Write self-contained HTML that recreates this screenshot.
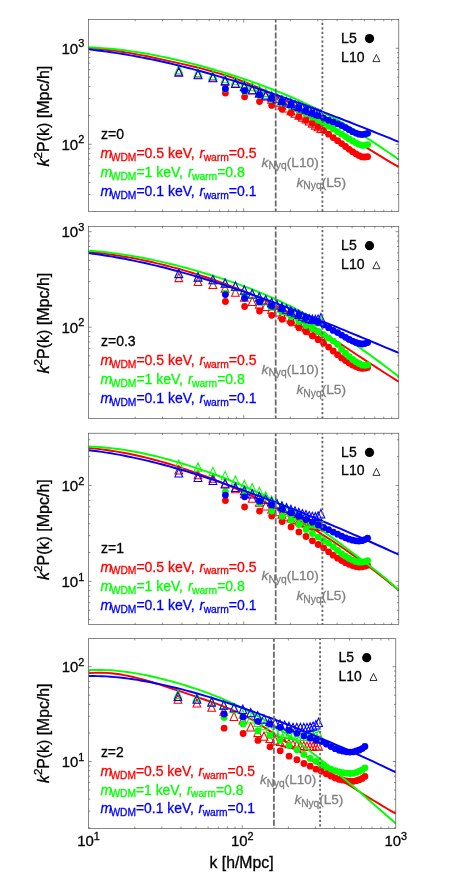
<!DOCTYPE html>
<html><head><meta charset="utf-8"><title>chart</title>
<style>html,body{margin:0;padding:0;background:#fff}svg{display:block;will-change:transform}</style></head>
<body>
<svg width="463" height="874" viewBox="0 0 463 874" font-family="Liberation Sans, sans-serif">
<rect width="463" height="874" fill="#fff"/>
<clipPath id="c0"><rect x="88.5" y="19.4" width="310.3" height="192"/></clipPath>
<g clip-path="url(#c0)">
<polyline points="88.5,48.4 93,48.6 97.5,48.9 102,49.3 106.5,49.8 111,50.3 115.5,50.9 120,51.5 124.5,52.2 129,52.9 133.5,53.7 138,54.6 142.5,55.4 147,56.3 151.5,57.2 156,58.2 160.5,59.1 165,60.1 169.4,61.1 173.9,62.1 178.4,63.1 182.9,64.1 187.4,65.1 191.9,66.2 196.4,67.3 200.9,68.4 205.4,69.6 209.9,70.8 214.4,72.1 218.9,73.4 223.4,74.7 227.9,76.2 232.4,77.7 236.9,79.2 241.4,80.8 245.9,82.5 250.4,84.3 254.9,86.2 259.4,88.1 263.9,90.1 268.4,92.2 272.9,94.3 277.4,96.5 281.9,98.8 286.4,101.1 290.9,103.4 295.4,105.8 299.9,108.3 304.4,110.7 308.9,113.3 313.4,115.8 317.9,118.4 322.3,121 326.8,123.7 331.3,126.4 335.8,129.1 340.3,131.8 344.8,134.5 349.3,137.2 353.8,140 358.3,142.7 362.8,145.5 367.3,148.2 371.8,150.9 376.3,153.7 380.8,156.4 385.3,159.1 389.8,161.8 394.3,164.4 398.8,167.1" fill="none" stroke="#ff0000" stroke-width="1.95"/>
<path d="M174.9,75.3L178.8,66.9L182.7,75.3ZM194.1,77.9L198,69.5L201.9,77.9ZM209,80.9L212.9,72.5L216.8,80.9ZM221.2,84.5L225.1,76.1L229,84.5ZM231.5,87.1L235.4,78.7L239.3,87.1ZM240.4,90.4L244.3,82L248.2,90.4ZM248.3,93.9L252.2,85.5L256.1,93.9ZM255.4,97.2L259.3,88.8L263.2,97.2ZM261.8,100.2L265.7,91.8L269.6,100.2ZM267.7,103.2L271.6,94.8L275.5,103.2ZM273,106.1L276.9,97.7L280.8,106.1ZM278,109.1L281.9,100.7L285.8,109.1ZM282.6,112L286.5,103.6L290.4,112ZM287,114.8L290.9,106.4L294.8,114.8ZM291.1,117.2L295,108.8L298.9,117.2ZM294.9,119.2L298.8,110.8L302.7,119.2ZM298.5,121.1L302.4,112.7L306.3,121.1ZM302,122.9L305.9,114.5L309.8,122.9ZM305.3,125L309.2,116.6L313.1,125ZM308.4,127.1L312.3,118.7L316.2,127.1ZM311.4,129.1L315.3,120.7L319.2,129.1ZM314.2,130.8L318.1,122.4L322,130.8ZM317,132.4L320.9,124L324.8,132.4Z" fill="none" stroke="#ff0000" stroke-width="1.05"/>
<g fill="#ff0000">
<circle cx="225.4" cy="93" r="3.4"/>
<circle cx="244.6" cy="96.8" r="3.4"/>
<circle cx="259.5" cy="101.6" r="3.4"/>
<circle cx="271.7" cy="105.4" r="3.4"/>
<circle cx="282.1" cy="109.3" r="3.4"/>
<circle cx="291" cy="113.1" r="3.4"/>
<circle cx="298.9" cy="116.6" r="3.4"/>
<circle cx="306" cy="120" r="3.4"/>
<circle cx="312.4" cy="123.2" r="3.4"/>
<circle cx="318.2" cy="126.6" r="3.4"/>
<circle cx="323.6" cy="130.5" r="3.4"/>
<circle cx="328.6" cy="134.2" r="3.4"/>
<circle cx="333.2" cy="137.6" r="3.4"/>
<circle cx="337.6" cy="140.7" r="3.4"/>
<circle cx="341.6" cy="143.6" r="3.4"/>
<circle cx="345.5" cy="146.5" r="3.4"/>
<circle cx="349.1" cy="149.3" r="3.4"/>
<circle cx="352.6" cy="151.7" r="3.4"/>
<circle cx="355.9" cy="153.8" r="3.4"/>
<circle cx="359" cy="155.6" r="3.4"/>
<circle cx="362" cy="156.9" r="3.4"/>
<circle cx="364.8" cy="157" r="3.4"/>
<circle cx="367.6" cy="156.7" r="3.4"/>
</g>
<polyline points="88.5,47.3 93,47.5 97.5,47.8 102,48.1 106.5,48.4 111,48.8 115.5,49.3 120,49.8 124.5,50.3 129,50.9 133.5,51.6 138,52.3 142.5,53 147,53.8 151.5,54.6 156,55.5 160.5,56.4 165,57.3 169.4,58.3 173.9,59.3 178.4,60.3 182.9,61.4 187.4,62.5 191.9,63.6 196.4,64.8 200.9,66 205.4,67.2 209.9,68.5 214.4,69.8 218.9,71.1 223.4,72.4 227.9,73.8 232.4,75.2 236.9,76.6 241.4,78.1 245.9,79.6 250.4,81.2 254.9,82.8 259.4,84.4 263.9,86.1 268.4,87.8 272.9,89.5 277.4,91.3 281.9,93.1 286.4,95 290.9,97 295.4,98.9 299.9,101 304.4,103.1 308.9,105.2 313.4,107.4 317.9,109.6 322.3,111.9 326.8,114.3 331.3,116.7 335.8,119.2 340.3,121.7 344.8,124.3 349.3,127 353.8,129.7 358.3,132.5 362.8,135.3 367.3,138.2 371.8,141.1 376.3,144.1 380.8,147.1 385.3,150.2 389.8,153.3 394.3,156.4 398.8,159.5" fill="none" stroke="#00ff00" stroke-width="1.95"/>
<path d="M174.9,73.8L178.8,65.4L182.7,73.8ZM194.1,76.4L198,68L201.9,76.4ZM209,79.4L212.9,71L216.8,79.4ZM221.2,82.8L225.1,74.4L229,82.8ZM231.5,84.8L235.4,76.4L239.3,84.8ZM240.4,87.6L244.3,79.2L248.2,87.6ZM248.3,90.7L252.2,82.3L256.1,90.7ZM255.4,93.7L259.3,85.3L263.2,93.7ZM261.8,96.6L265.7,88.2L269.6,96.6ZM267.7,99.3L271.6,90.9L275.5,99.3ZM273,101.7L276.9,93.3L280.8,101.7ZM278,103.9L281.9,95.5L285.8,103.9ZM282.6,105.8L286.5,97.4L290.4,105.8ZM287,107.6L290.9,99.2L294.8,107.6ZM291.1,109.3L295,100.9L298.9,109.3ZM294.9,110.8L298.8,102.4L302.7,110.8ZM298.5,112.2L302.4,103.8L306.3,112.2ZM302,113.5L305.9,105.1L309.8,113.5ZM305.3,114.7L309.2,106.3L313.1,114.7ZM308.4,115.8L312.3,107.4L316.2,115.8ZM311.4,116.9L315.3,108.5L319.2,116.9ZM314.2,117.8L318.1,109.4L322,117.8ZM317,118.7L320.9,110.3L324.8,118.7Z" fill="none" stroke="#00ff00" stroke-width="1.05"/>
<g fill="#00ff00">
<circle cx="225.4" cy="89" r="3.4"/>
<circle cx="244.6" cy="91.5" r="3.4"/>
<circle cx="259.5" cy="95.4" r="3.4"/>
<circle cx="271.7" cy="99.5" r="3.4"/>
<circle cx="282.1" cy="103" r="3.4"/>
<circle cx="291" cy="106.4" r="3.4"/>
<circle cx="298.9" cy="110.2" r="3.4"/>
<circle cx="306" cy="113.8" r="3.4"/>
<circle cx="312.4" cy="117.2" r="3.4"/>
<circle cx="318.2" cy="120.3" r="3.4"/>
<circle cx="323.6" cy="123.4" r="3.4"/>
<circle cx="328.6" cy="126.3" r="3.4"/>
<circle cx="333.2" cy="129.1" r="3.4"/>
<circle cx="337.6" cy="131.7" r="3.4"/>
<circle cx="341.6" cy="134.2" r="3.4"/>
<circle cx="345.5" cy="136.6" r="3.4"/>
<circle cx="349.1" cy="138.9" r="3.4"/>
<circle cx="352.6" cy="141" r="3.4"/>
<circle cx="355.9" cy="142.8" r="3.4"/>
<circle cx="359" cy="144.4" r="3.4"/>
<circle cx="362" cy="145.3" r="3.4"/>
<circle cx="364.8" cy="145.2" r="3.4"/>
<circle cx="367.6" cy="144.6" r="3.4"/>
</g>
<polyline points="88.5,49.4 93,49.9 97.5,50.5 102,51 106.5,51.6 111,52.3 115.5,52.9 120,53.6 124.5,54.3 129,55.1 133.5,55.9 138,56.7 142.5,57.6 147,58.5 151.5,59.4 156,60.3 160.5,61.3 165,62.3 169.4,63.3 173.9,64.4 178.4,65.5 182.9,66.6 187.4,67.7 191.9,68.9 196.4,70.1 200.9,71.3 205.4,72.5 209.9,73.8 214.4,75.1 218.9,76.4 223.4,77.7 227.9,79.1 232.4,80.4 236.9,81.8 241.4,83.2 245.9,84.7 250.4,86.1 254.9,87.6 259.4,89.1 263.9,90.6 268.4,92.1 272.9,93.7 277.4,95.2 281.9,96.8 286.4,98.4 290.9,100 295.4,101.6 299.9,103.2 304.4,104.9 308.9,106.6 313.4,108.2 317.9,109.9 322.3,111.6 326.8,113.3 331.3,115.1 335.8,116.8 340.3,118.5 344.8,120.3 349.3,122 353.8,123.8 358.3,125.6 362.8,127.4 367.3,129.2 371.8,131 376.3,132.8 380.8,134.6 385.3,136.4 389.8,138.2 394.3,140.1 398.8,141.9" fill="none" stroke="#0000ff" stroke-width="1.95"/>
<path d="M174.9,76.1L178.8,67.7L182.7,76.1ZM194.1,78.7L198,70.3L201.9,78.7ZM209,81.7L212.9,73.3L216.8,81.7ZM221.2,85.1L225.1,76.7L229,85.1ZM231.5,87.4L235.4,79L239.3,87.4ZM240.4,90.6L244.3,82.2L248.2,90.6ZM248.3,93.8L252.2,85.4L256.1,93.8ZM255.4,96.7L259.3,88.3L263.2,96.7ZM261.8,99.1L265.7,90.7L269.6,99.1ZM267.7,101L271.6,92.6L275.5,101ZM273,102.8L276.9,94.4L280.8,102.8ZM278,104.4L281.9,96L285.8,104.4ZM282.6,105.9L286.5,97.5L290.4,105.9ZM287,107.5L290.9,99.1L294.8,107.5ZM291.1,109.1L295,100.7L298.9,109.1ZM294.9,110.6L298.8,102.2L302.7,110.6ZM298.5,112L302.4,103.6L306.3,112ZM302,113.3L305.9,104.9L309.8,113.3ZM305.3,114.5L309.2,106.1L313.1,114.5ZM308.4,115.6L312.3,107.2L316.2,115.6ZM311.4,116.6L315.3,108.2L319.2,116.6ZM314.2,117.6L318.1,109.2L322,117.6ZM317,118.4L320.9,110L324.8,118.4Z" fill="none" stroke="#0000ff" stroke-width="1.05"/>
<g fill="#0000ff">
<circle cx="225.4" cy="88.7" r="3.4"/>
<circle cx="244.6" cy="90.7" r="3.4"/>
<circle cx="259.5" cy="94.7" r="3.4"/>
<circle cx="271.7" cy="98" r="3.4"/>
<circle cx="282.1" cy="101.4" r="3.4"/>
<circle cx="291" cy="104.5" r="3.4"/>
<circle cx="298.9" cy="107.6" r="3.4"/>
<circle cx="306" cy="110.5" r="3.4"/>
<circle cx="312.4" cy="113.1" r="3.4"/>
<circle cx="318.2" cy="115.6" r="3.4"/>
<circle cx="323.6" cy="118.1" r="3.4"/>
<circle cx="328.6" cy="120.2" r="3.4"/>
<circle cx="333.2" cy="122.1" r="3.4"/>
<circle cx="337.6" cy="123.8" r="3.4"/>
<circle cx="341.6" cy="125.6" r="3.4"/>
<circle cx="345.5" cy="127.6" r="3.4"/>
<circle cx="349.1" cy="129.7" r="3.4"/>
<circle cx="352.6" cy="131.7" r="3.4"/>
<circle cx="355.9" cy="133.1" r="3.4"/>
<circle cx="359" cy="134.2" r="3.4"/>
<circle cx="362" cy="134.6" r="3.4"/>
<circle cx="364.8" cy="134.2" r="3.4"/>
<circle cx="367.6" cy="133.3" r="3.4"/>
</g>
<line x1="275.7" x2="275.7" y1="19.4" y2="211.4" stroke="#6a6a6a" stroke-width="1.8" stroke-dasharray="6 2" stroke-dashoffset="3"/>
<line x1="322.4" x2="322.4" y1="19.4" y2="211.4" stroke="#6a6a6a" stroke-width="1.9" stroke-dasharray="2.2 2.24" stroke-dashoffset="1"/>
</g>
<rect x="88.5" y="19.4" width="310.3" height="192" fill="none" stroke="#383838" stroke-width="0.6"/>
<path d="M88.5,48.3h3.2M398.8,48.3h-3.2M88.5,144.3h3.2M398.8,144.3h-3.2M88.5,115.4h1.8M398.8,115.4h-1.8M88.5,98.5h1.8M398.8,98.5h-1.8M88.5,86.5h1.8M398.8,86.5h-1.8M88.5,77.2h1.8M398.8,77.2h-1.8M88.5,69.6h1.8M398.8,69.6h-1.8M88.5,63.2h1.8M398.8,63.2h-1.8M88.5,57.6h1.8M398.8,57.6h-1.8M88.5,52.7h1.8M398.8,52.7h-1.8M88.5,194.5h1.8M398.8,194.5h-1.8M88.5,182.5h1.8M398.8,182.5h-1.8M88.5,173.2h1.8M398.8,173.2h-1.8M88.5,165.6h1.8M398.8,165.6h-1.8M88.5,159.2h1.8M398.8,159.2h-1.8M88.5,153.6h1.8M398.8,153.6h-1.8M88.5,148.7h1.8M398.8,148.7h-1.8M135.2,19.4v1.8M135.2,211.4v-1.8M162.5,19.4v1.8M162.5,211.4v-1.8M181.9,19.4v1.8M181.9,211.4v-1.8M196.9,19.4v1.8M196.9,211.4v-1.8M209.2,19.4v1.8M209.2,211.4v-1.8M219.6,19.4v1.8M219.6,211.4v-1.8M228.6,19.4v1.8M228.6,211.4v-1.8M236.6,19.4v1.8M236.6,211.4v-1.8M243.7,19.4v3.2M243.7,211.4v-3.2M290.4,19.4v1.8M290.4,211.4v-1.8M317.7,19.4v1.8M317.7,211.4v-1.8M337.1,19.4v1.8M337.1,211.4v-1.8M352.1,19.4v1.8M352.1,211.4v-1.8M364.4,19.4v1.8M364.4,211.4v-1.8M374.8,19.4v1.8M374.8,211.4v-1.8M383.8,19.4v1.8M383.8,211.4v-1.8M391.7,19.4v1.8M391.7,211.4v-1.8" stroke="#4a4a4a" stroke-width="0.6" fill="none"/>
<text x="84.3" y="54" font-size="15.1" text-anchor="end" stroke="#000" stroke-width="0.3">10<tspan dy="-6.6" font-size="10.9">3</tspan></text>
<text x="84.3" y="150" font-size="15.1" text-anchor="end" stroke="#000" stroke-width="0.3">10<tspan dy="-6.6" font-size="10.9">2</tspan></text>
<text transform="translate(49,166.4) rotate(-90)" font-size="16" stroke="#000" stroke-width="0.3"><tspan font-style="italic">k</tspan><tspan dy="-7.2" font-size="11.6">2</tspan><tspan dy="7.2">P(k) [Mpc/h]</tspan></text>
<text x="341.1" y="42.7" font-size="14" stroke="#000" stroke-width="0.3">L5</text>
<circle cx="369.5" cy="38.6" r="4.6" fill="#000"/>
<text x="341.1" y="61.6" font-size="14" stroke="#000" stroke-width="0.3">L10</text>
<path d="M372.9,61.6L376.4,54.5L379.9,61.6Z" fill="none" stroke="#000" stroke-width="0.8"/>
<text x="101" y="139.3" font-size="14" stroke="#000" stroke-width="0.3">z=0</text>
<text x="100.5" y="157.8" font-size="14" fill="#ff0000" stroke="#ff0000" stroke-width="0.3"><tspan font-style="italic">m</tspan><tspan dx="-1.5" dy="2.8" font-size="10.3">WDM</tspan><tspan dy="-2.8">=0.5 keV, </tspan><tspan dx="1" font-style="italic">r</tspan><tspan dx="-0.6" dy="2.8" font-size="10.3">warm</tspan><tspan dy="-2.8">=0.5</tspan></text>
<text x="100.5" y="176.9" font-size="14" fill="#00ff00" stroke="#00ff00" stroke-width="0.3"><tspan font-style="italic">m</tspan><tspan dx="-1.5" dy="2.8" font-size="10.3">WDM</tspan><tspan dy="-2.8">=1 keV, </tspan><tspan dx="1" font-style="italic">r</tspan><tspan dx="-0.6" dy="2.8" font-size="10.3">warm</tspan><tspan dy="-2.8">=0.8</tspan></text>
<text x="100.5" y="195.9" font-size="14" fill="#0000ff" stroke="#0000ff" stroke-width="0.3"><tspan font-style="italic">m</tspan><tspan dx="-1.5" dy="2.8" font-size="10.3">WDM</tspan><tspan dy="-2.8">=0.1 keV, </tspan><tspan dx="1" font-style="italic">r</tspan><tspan dx="-0.6" dy="2.8" font-size="10.3">warm</tspan><tspan dy="-2.8">=0.1</tspan></text>
<text x="261.6" y="166.5" font-size="13.7" fill="#808080" stroke="#808080" stroke-width="0.3"><tspan font-style="italic">k</tspan><tspan dy="2.8" font-size="10.3">Nyq</tspan><tspan dy="-2.8">(L10)</tspan></text>
<text x="296.5" y="186.6" font-size="13.7" fill="#808080" stroke="#808080" stroke-width="0.3"><tspan font-style="italic">k</tspan><tspan dy="2.8" font-size="10.3">Nyq</tspan><tspan dy="-2.8">(L5)</tspan></text>
<clipPath id="c1"><rect x="88.5" y="226.5" width="310.3" height="191.9"/></clipPath>
<g clip-path="url(#c1)">
<polyline points="88.5,251.9 93,252.3 97.5,252.8 102,253.3 106.5,253.9 111,254.5 115.5,255.2 120,255.9 124.5,256.7 129,257.4 133.5,258.3 138,259.1 142.5,260.1 147,261 151.5,262 156,263.1 160.5,264.1 165,265.2 169.4,266.4 173.9,267.6 178.4,268.8 182.9,270.1 187.4,271.4 191.9,272.8 196.4,274.1 200.9,275.6 205.4,277 209.9,278.5 214.4,280 218.9,281.6 223.4,283.2 227.9,284.9 232.4,286.6 236.9,288.3 241.4,290.1 245.9,292 250.4,293.9 254.9,295.8 259.4,297.9 263.9,299.9 268.4,302.1 272.9,304.3 277.4,306.5 281.9,308.8 286.4,311.2 290.9,313.7 295.4,316.2 299.9,318.8 304.4,321.4 308.9,324.1 313.4,326.8 317.9,329.6 322.3,332.4 326.8,335.2 331.3,338.1 335.8,341 340.3,343.9 344.8,346.8 349.3,349.8 353.8,352.7 358.3,355.7 362.8,358.6 367.3,361.6 371.8,364.5 376.3,367.4 380.8,370.3 385.3,373.2 389.8,376 394.3,378.9 398.8,381.7" fill="none" stroke="#ff0000" stroke-width="1.95"/>
<path d="M174.9,281.6L178.8,273.2L182.7,281.6ZM194.1,285.5L198,277.1L201.9,285.5ZM209,288.5L212.9,280.1L216.8,288.5ZM221.2,292.3L225.1,283.9L229,292.3ZM231.5,296.3L235.4,287.9L239.3,296.3ZM240.4,301.2L244.3,292.8L248.2,301.2ZM248.3,305.5L252.2,297.1L256.1,305.5ZM255.4,308.1L259.3,299.7L263.2,308.1ZM261.8,310.4L265.7,302L269.6,310.4ZM267.7,313.2L271.6,304.8L275.5,313.2ZM273,316L276.9,307.6L280.8,316ZM278,318.7L281.9,310.3L285.8,318.7ZM282.6,320.9L286.5,312.5L290.4,320.9ZM287,323.1L290.9,314.7L294.8,323.1ZM291.1,325.1L295,316.7L298.9,325.1ZM294.9,327.1L298.8,318.7L302.7,327.1ZM298.5,329.2L302.4,320.8L306.3,329.2ZM302,331.2L305.9,322.8L309.8,331.2ZM305.3,333.2L309.2,324.8L313.1,333.2ZM308.4,334.9L312.3,326.5L316.2,334.9ZM311.4,336.6L315.3,328.2L319.2,336.6ZM314.2,338L318.1,329.6L322,338ZM317,339.4L320.9,331L324.8,339.4Z" fill="none" stroke="#ff0000" stroke-width="1.05"/>
<g fill="#ff0000">
<circle cx="225.4" cy="301.5" r="3.4"/>
<circle cx="244.6" cy="306.5" r="3.4"/>
<circle cx="259.5" cy="311" r="3.4"/>
<circle cx="271.7" cy="315.3" r="3.4"/>
<circle cx="282.1" cy="319.3" r="3.4"/>
<circle cx="291" cy="323.1" r="3.4"/>
<circle cx="298.9" cy="327.8" r="3.4"/>
<circle cx="306" cy="331.7" r="3.4"/>
<circle cx="312.4" cy="335.9" r="3.4"/>
<circle cx="318.2" cy="339.7" r="3.4"/>
<circle cx="323.6" cy="343.2" r="3.4"/>
<circle cx="328.6" cy="347.1" r="3.4"/>
<circle cx="333.2" cy="351" r="3.4"/>
<circle cx="337.6" cy="354.7" r="3.4"/>
<circle cx="341.6" cy="357.9" r="3.4"/>
<circle cx="345.5" cy="360.6" r="3.4"/>
<circle cx="349.1" cy="363.1" r="3.4"/>
<circle cx="352.6" cy="365.1" r="3.4"/>
<circle cx="355.9" cy="366.6" r="3.4"/>
<circle cx="359" cy="367.8" r="3.4"/>
<circle cx="362" cy="368.4" r="3.4"/>
<circle cx="364.8" cy="368.2" r="3.4"/>
<circle cx="367.6" cy="367.5" r="3.4"/>
</g>
<polyline points="88.5,250.7 93,251 97.5,251.4 102,251.8 106.5,252.3 111,252.9 115.5,253.4 120,254.1 124.5,254.7 129,255.4 133.5,256.2 138,257 142.5,257.8 147,258.7 151.5,259.6 156,260.6 160.5,261.6 165,262.6 169.4,263.7 173.9,264.8 178.4,265.9 182.9,267.1 187.4,268.3 191.9,269.6 196.4,270.8 200.9,272.1 205.4,273.5 209.9,274.8 214.4,276.2 218.9,277.6 223.4,279.1 227.9,280.6 232.4,282.1 236.9,283.7 241.4,285.3 245.9,287 250.4,288.7 254.9,290.5 259.4,292.3 263.9,294.1 268.4,296.1 272.9,298 277.4,300 281.9,302.1 286.4,304.3 290.9,306.5 295.4,308.8 299.9,311.1 304.4,313.5 308.9,315.9 313.4,318.4 317.9,321 322.3,323.6 326.8,326.3 331.3,329.1 335.8,331.9 340.3,334.7 344.8,337.7 349.3,340.6 353.8,343.7 358.3,346.7 362.8,349.9 367.3,353.1 371.8,356.3 376.3,359.6 380.8,362.9 385.3,366.3 389.8,369.7 394.3,373.2 398.8,376.6" fill="none" stroke="#00ff00" stroke-width="1.95"/>
<path d="M174.9,277.3L178.8,268.9L182.7,277.3ZM194.1,281L198,272.6L201.9,281ZM209,283.8L212.9,275.4L216.8,283.8ZM221.2,287.3L225.1,278.9L229,287.3ZM231.5,290.6L235.4,282.2L239.3,290.6ZM240.4,294.6L244.3,286.2L248.2,294.6ZM248.3,298.5L252.2,290.1L256.1,298.5ZM255.4,301.7L259.3,293.3L263.2,301.7ZM261.8,304.6L265.7,296.2L269.6,304.6ZM267.7,307.3L271.6,298.9L275.5,307.3ZM273,309.8L276.9,301.4L280.8,309.8ZM278,312.1L281.9,303.7L285.8,312.1ZM282.6,314.3L286.5,305.9L290.4,314.3ZM287,316.3L290.9,307.9L294.8,316.3ZM291.1,318.2L295,309.8L298.9,318.2ZM294.9,320L298.8,311.6L302.7,320ZM298.5,321.9L302.4,313.5L306.3,321.9ZM302,323.6L305.9,315.2L309.8,323.6ZM305.3,324.8L309.2,316.4L313.1,324.8ZM308.4,325.5L312.3,317.1L316.2,325.5ZM311.4,325.9L315.3,317.5L319.2,325.9ZM314.2,325.6L318.1,317.2L322,325.6ZM317,324.6L320.9,316.2L324.8,324.6Z" fill="none" stroke="#00ff00" stroke-width="1.05"/>
<g fill="#00ff00">
<circle cx="225.4" cy="293.2" r="3.4"/>
<circle cx="244.6" cy="297" r="3.4"/>
<circle cx="259.5" cy="302.2" r="3.4"/>
<circle cx="271.7" cy="307.4" r="3.4"/>
<circle cx="282.1" cy="312" r="3.4"/>
<circle cx="291" cy="316.6" r="3.4"/>
<circle cx="298.9" cy="321.6" r="3.4"/>
<circle cx="306" cy="325.6" r="3.4"/>
<circle cx="312.4" cy="328.7" r="3.4"/>
<circle cx="318.2" cy="331.5" r="3.4"/>
<circle cx="323.6" cy="334.7" r="3.4"/>
<circle cx="328.6" cy="338.1" r="3.4"/>
<circle cx="333.2" cy="341.1" r="3.4"/>
<circle cx="337.6" cy="344.4" r="3.4"/>
<circle cx="341.6" cy="349.3" r="3.4"/>
<circle cx="345.5" cy="353.2" r="3.4"/>
<circle cx="349.1" cy="356.6" r="3.4"/>
<circle cx="352.6" cy="359.5" r="3.4"/>
<circle cx="355.9" cy="361.7" r="3.4"/>
<circle cx="359" cy="363.5" r="3.4"/>
<circle cx="362" cy="365" r="3.4"/>
<circle cx="364.8" cy="365.3" r="3.4"/>
<circle cx="367.6" cy="364.9" r="3.4"/>
</g>
<polyline points="88.5,253.1 93,253.7 97.5,254.3 102,255 106.5,255.7 111,256.4 115.5,257.2 120,258 124.5,258.8 129,259.7 133.5,260.6 138,261.6 142.5,262.5 147,263.5 151.5,264.6 156,265.6 160.5,266.7 165,267.8 169.4,269 173.9,270.2 178.4,271.4 182.9,272.6 187.4,273.9 191.9,275.1 196.4,276.5 200.9,277.8 205.4,279.2 209.9,280.5 214.4,281.9 218.9,283.4 223.4,284.8 227.9,286.3 232.4,287.8 236.9,289.3 241.4,290.8 245.9,292.4 250.4,294 254.9,295.6 259.4,297.2 263.9,298.8 268.4,300.4 272.9,302.1 277.4,303.8 281.9,305.5 286.4,307.2 290.9,308.9 295.4,310.6 299.9,312.4 304.4,314.1 308.9,315.9 313.4,317.7 317.9,319.5 322.3,321.3 326.8,323.1 331.3,324.9 335.8,326.7 340.3,328.6 344.8,330.4 349.3,332.3 353.8,334.1 358.3,336 362.8,337.9 367.3,339.7 371.8,341.6 376.3,343.5 380.8,345.4 385.3,347.3 389.8,349.2 394.3,351 398.8,352.9" fill="none" stroke="#0000ff" stroke-width="1.95"/>
<path d="M174.9,277.6L178.8,269.2L182.7,277.6ZM194.1,281.1L198,272.7L201.9,281.1ZM209,283.8L212.9,275.4L216.8,283.8ZM221.2,287.1L225.1,278.7L229,287.1ZM231.5,290.2L235.4,281.8L239.3,290.2ZM240.4,294.1L244.3,285.7L248.2,294.1ZM248.3,297.9L252.2,289.5L256.1,297.9ZM255.4,301.1L259.3,292.7L263.2,301.1ZM261.8,304L265.7,295.6L269.6,304ZM267.7,306.6L271.6,298.2L275.5,306.6ZM273,309L276.9,300.6L280.8,309ZM278,311.2L281.9,302.8L285.8,311.2ZM282.6,313.2L286.5,304.8L290.4,313.2ZM287,315.1L290.9,306.7L294.8,315.1ZM291.1,316.8L295,308.4L298.9,316.8ZM294.9,318.5L298.8,310.1L302.7,318.5ZM298.5,320.3L302.4,311.9L306.3,320.3ZM302,321.8L305.9,313.4L309.8,321.8ZM305.3,322.8L309.2,314.4L313.1,322.8ZM308.4,323.4L312.3,315L316.2,323.4ZM311.4,323.7L315.3,315.3L319.2,323.7ZM314.2,323.3L318.1,314.9L322,323.3ZM317,322L320.9,313.6L324.8,322Z" fill="none" stroke="#0000ff" stroke-width="1.05"/>
<g fill="#0000ff">
<circle cx="225.4" cy="294.6" r="3.4"/>
<circle cx="244.6" cy="298.2" r="3.4"/>
<circle cx="259.5" cy="301.9" r="3.4"/>
<circle cx="271.7" cy="306" r="3.4"/>
<circle cx="282.1" cy="308.9" r="3.4"/>
<circle cx="291" cy="311.8" r="3.4"/>
<circle cx="298.9" cy="315" r="3.4"/>
<circle cx="306" cy="317.6" r="3.4"/>
<circle cx="312.4" cy="320.1" r="3.4"/>
<circle cx="318.2" cy="322.4" r="3.4"/>
<circle cx="323.6" cy="324.9" r="3.4"/>
<circle cx="328.6" cy="327.7" r="3.4"/>
<circle cx="333.2" cy="330.4" r="3.4"/>
<circle cx="337.6" cy="332.6" r="3.4"/>
<circle cx="341.6" cy="335.1" r="3.4"/>
<circle cx="345.5" cy="337.3" r="3.4"/>
<circle cx="349.1" cy="339.4" r="3.4"/>
<circle cx="352.6" cy="341.1" r="3.4"/>
<circle cx="355.9" cy="342.4" r="3.4"/>
<circle cx="359" cy="343.5" r="3.4"/>
<circle cx="362" cy="344" r="3.4"/>
<circle cx="364.8" cy="343.6" r="3.4"/>
<circle cx="367.6" cy="342.5" r="3.4"/>
</g>
<line x1="275.7" x2="275.7" y1="226.5" y2="418.4" stroke="#6a6a6a" stroke-width="1.8" stroke-dasharray="6 2" stroke-dashoffset="3"/>
<line x1="322.4" x2="322.4" y1="226.5" y2="418.4" stroke="#6a6a6a" stroke-width="1.9" stroke-dasharray="2.2 2.24" stroke-dashoffset="1"/>
</g>
<rect x="88.5" y="226.5" width="310.3" height="191.9" fill="none" stroke="#383838" stroke-width="0.6"/>
<path d="M88.5,231.7h3.2M398.8,231.7h-3.2M88.5,327.2h3.2M398.8,327.2h-3.2M88.5,298.5h1.8M398.8,298.5h-1.8M88.5,281.6h1.8M398.8,281.6h-1.8M88.5,269.7h1.8M398.8,269.7h-1.8M88.5,260.4h1.8M398.8,260.4h-1.8M88.5,252.9h1.8M398.8,252.9h-1.8M88.5,246.5h1.8M398.8,246.5h-1.8M88.5,241h1.8M398.8,241h-1.8M88.5,236.1h1.8M398.8,236.1h-1.8M88.5,394h1.8M398.8,394h-1.8M88.5,377.1h1.8M398.8,377.1h-1.8M88.5,365.2h1.8M398.8,365.2h-1.8M88.5,355.9h1.8M398.8,355.9h-1.8M88.5,348.4h1.8M398.8,348.4h-1.8M88.5,342h1.8M398.8,342h-1.8M88.5,336.5h1.8M398.8,336.5h-1.8M88.5,331.6h1.8M398.8,331.6h-1.8M135.2,226.5v1.8M135.2,418.4v-1.8M162.5,226.5v1.8M162.5,418.4v-1.8M181.9,226.5v1.8M181.9,418.4v-1.8M196.9,226.5v1.8M196.9,418.4v-1.8M209.2,226.5v1.8M209.2,418.4v-1.8M219.6,226.5v1.8M219.6,418.4v-1.8M228.6,226.5v1.8M228.6,418.4v-1.8M236.6,226.5v1.8M236.6,418.4v-1.8M243.7,226.5v3.2M243.7,418.4v-3.2M290.4,226.5v1.8M290.4,418.4v-1.8M317.7,226.5v1.8M317.7,418.4v-1.8M337.1,226.5v1.8M337.1,418.4v-1.8M352.1,226.5v1.8M352.1,418.4v-1.8M364.4,226.5v1.8M364.4,418.4v-1.8M374.8,226.5v1.8M374.8,418.4v-1.8M383.8,226.5v1.8M383.8,418.4v-1.8M391.7,226.5v1.8M391.7,418.4v-1.8" stroke="#4a4a4a" stroke-width="0.6" fill="none"/>
<text x="84.3" y="237.4" font-size="15.1" text-anchor="end" stroke="#000" stroke-width="0.3">10<tspan dy="-6.6" font-size="10.9">3</tspan></text>
<text x="84.3" y="332.9" font-size="15.1" text-anchor="end" stroke="#000" stroke-width="0.3">10<tspan dy="-6.6" font-size="10.9">2</tspan></text>
<text transform="translate(49,373.4) rotate(-90)" font-size="16" stroke="#000" stroke-width="0.3"><tspan font-style="italic">k</tspan><tspan dy="-7.2" font-size="11.6">2</tspan><tspan dy="7.2">P(k) [Mpc/h]</tspan></text>
<text x="341.1" y="249.8" font-size="14" stroke="#000" stroke-width="0.3">L5</text>
<circle cx="369.5" cy="245.7" r="4.6" fill="#000"/>
<text x="341.1" y="268.7" font-size="14" stroke="#000" stroke-width="0.3">L10</text>
<path d="M372.9,268.7L376.4,261.6L379.9,268.7Z" fill="none" stroke="#000" stroke-width="0.8"/>
<text x="101" y="346.4" font-size="14" stroke="#000" stroke-width="0.3">z=0.3</text>
<text x="100.5" y="364.9" font-size="14" fill="#ff0000" stroke="#ff0000" stroke-width="0.3"><tspan font-style="italic">m</tspan><tspan dx="-1.5" dy="2.8" font-size="10.3">WDM</tspan><tspan dy="-2.8">=0.5 keV, </tspan><tspan dx="1" font-style="italic">r</tspan><tspan dx="-0.6" dy="2.8" font-size="10.3">warm</tspan><tspan dy="-2.8">=0.5</tspan></text>
<text x="100.5" y="384" font-size="14" fill="#00ff00" stroke="#00ff00" stroke-width="0.3"><tspan font-style="italic">m</tspan><tspan dx="-1.5" dy="2.8" font-size="10.3">WDM</tspan><tspan dy="-2.8">=1 keV, </tspan><tspan dx="1" font-style="italic">r</tspan><tspan dx="-0.6" dy="2.8" font-size="10.3">warm</tspan><tspan dy="-2.8">=0.8</tspan></text>
<text x="100.5" y="403" font-size="14" fill="#0000ff" stroke="#0000ff" stroke-width="0.3"><tspan font-style="italic">m</tspan><tspan dx="-1.5" dy="2.8" font-size="10.3">WDM</tspan><tspan dy="-2.8">=0.1 keV, </tspan><tspan dx="1" font-style="italic">r</tspan><tspan dx="-0.6" dy="2.8" font-size="10.3">warm</tspan><tspan dy="-2.8">=0.1</tspan></text>
<text x="261.6" y="373.6" font-size="13.7" fill="#808080" stroke="#808080" stroke-width="0.3"><tspan font-style="italic">k</tspan><tspan dy="2.8" font-size="10.3">Nyq</tspan><tspan dy="-2.8">(L10)</tspan></text>
<text x="296.5" y="393.7" font-size="13.7" fill="#808080" stroke="#808080" stroke-width="0.3"><tspan font-style="italic">k</tspan><tspan dy="2.8" font-size="10.3">Nyq</tspan><tspan dy="-2.8">(L5)</tspan></text>
<clipPath id="c2"><rect x="88.5" y="433.2" width="310.3" height="191.3"/></clipPath>
<g clip-path="url(#c2)">
<polyline points="88.5,448 93,448.4 97.5,448.9 102,449.4 106.5,450 111,450.7 115.5,451.4 120,452.1 124.5,453 129,453.8 133.5,454.8 138,455.8 142.5,456.8 147,457.9 151.5,459 156,460.2 160.5,461.4 165,462.7 169.4,464 173.9,465.4 178.4,466.8 182.9,468.3 187.4,469.8 191.9,471.3 196.4,472.9 200.9,474.6 205.4,476.2 209.9,477.9 214.4,479.7 218.9,481.5 223.4,483.3 227.9,485.2 232.4,487.1 236.9,489.1 241.4,491.1 245.9,493.1 250.4,495.2 254.9,497.3 259.4,499.5 263.9,501.7 268.4,504 272.9,506.3 277.4,508.6 281.9,511 286.4,513.4 290.9,515.9 295.4,518.4 299.9,521 304.4,523.6 308.9,526.3 313.4,529 317.9,531.7 322.3,534.6 326.8,537.4 331.3,540.3 335.8,543.3 340.3,546.3 344.8,549.3 349.3,552.4 353.8,555.6 358.3,558.8 362.8,562.1 367.3,565.4 371.8,568.8 376.3,572.2 380.8,575.7 385.3,579.3 389.8,582.9 394.3,586.6 398.8,590.3" fill="none" stroke="#ff0000" stroke-width="1.95"/>
<path d="M174.9,474L178.8,465.6L182.7,474ZM194.1,478.8L198,470.4L201.9,478.8ZM209,482.2L212.9,473.8L216.8,482.2ZM221.2,487.3L225.1,478.9L229,487.3ZM231.5,492.7L235.4,484.3L239.3,492.7ZM240.4,497.8L244.3,489.4L248.2,497.8ZM248.3,502.3L252.2,493.9L256.1,502.3ZM255.4,506.3L259.3,497.9L263.2,506.3ZM261.8,509.9L265.7,501.5L269.6,509.9ZM267.7,513L271.6,504.6L275.5,513ZM273,515.7L276.9,507.3L280.8,515.7ZM278,518.1L281.9,509.7L285.8,518.1ZM282.6,520.2L286.5,511.8L290.4,520.2ZM287,521.9L290.9,513.5L294.8,521.9ZM291.1,523.5L295,515.1L298.9,523.5ZM294.9,524.9L298.8,516.5L302.7,524.9ZM298.5,526.1L302.4,517.7L306.3,526.1ZM302,527.3L305.9,518.9L309.8,527.3ZM305.3,528.5L309.2,520.1L313.1,528.5ZM308.4,529.5L312.3,521.1L316.2,529.5ZM311.4,530L315.3,521.6L319.2,530ZM314.2,530.4L318.1,522L322,530.4ZM317,530.5L320.9,522.1L324.8,530.5Z" fill="none" stroke="#ff0000" stroke-width="1.05"/>
<g fill="#ff0000">
<circle cx="225.4" cy="500.6" r="3.4"/>
<circle cx="244.6" cy="507" r="3.4"/>
<circle cx="259.5" cy="511.1" r="3.4"/>
<circle cx="271.7" cy="516" r="3.4"/>
<circle cx="282.1" cy="521.6" r="3.4"/>
<circle cx="291" cy="526.9" r="3.4"/>
<circle cx="298.9" cy="531.9" r="3.4"/>
<circle cx="306" cy="536.5" r="3.4"/>
<circle cx="312.4" cy="540.8" r="3.4"/>
<circle cx="318.2" cy="544.5" r="3.4"/>
<circle cx="323.6" cy="547.8" r="3.4"/>
<circle cx="328.6" cy="551.8" r="3.4"/>
<circle cx="333.2" cy="555.2" r="3.4"/>
<circle cx="337.6" cy="558.2" r="3.4"/>
<circle cx="341.6" cy="560.6" r="3.4"/>
<circle cx="345.5" cy="562.7" r="3.4"/>
<circle cx="349.1" cy="564.3" r="3.4"/>
<circle cx="352.6" cy="565.6" r="3.4"/>
<circle cx="355.9" cy="566.6" r="3.4"/>
<circle cx="359" cy="567" r="3.4"/>
<circle cx="362" cy="566.8" r="3.4"/>
<circle cx="364.8" cy="566.2" r="3.4"/>
<circle cx="367.6" cy="565.3" r="3.4"/>
</g>
<polyline points="88.5,446.5 93,446.7 97.5,446.9 102,447.3 106.5,447.7 111,448.1 115.5,448.7 120,449.3 124.5,449.9 129,450.7 133.5,451.5 138,452.3 142.5,453.2 147,454.2 151.5,455.2 156,456.3 160.5,457.4 165,458.6 169.4,459.8 173.9,461.1 178.4,462.4 182.9,463.7 187.4,465.1 191.9,466.6 196.4,468.1 200.9,469.6 205.4,471.1 209.9,472.7 214.4,474.4 218.9,476 223.4,477.7 227.9,479.5 232.4,481.3 236.9,483.2 241.4,485.1 245.9,487 250.4,489.1 254.9,491.1 259.4,493.3 263.9,495.5 268.4,497.8 272.9,500.1 277.4,502.6 281.9,505 286.4,507.6 290.9,510.3 295.4,513 299.9,515.8 304.4,518.7 308.9,521.6 313.4,524.6 317.9,527.6 322.3,530.7 326.8,533.9 331.3,537.1 335.8,540.4 340.3,543.6 344.8,547 349.3,550.3 353.8,553.7 358.3,557.1 362.8,560.6 367.3,564 371.8,567.5 376.3,571 380.8,574.6 385.3,578.2 389.8,582 394.3,585.9 398.8,590" fill="none" stroke="#00ff00" stroke-width="1.95"/>
<path d="M174.9,468.5L178.8,460.1L182.7,468.5ZM194.1,471.2L198,462.8L201.9,471.2ZM209,475.6L212.9,467.2L216.8,475.6ZM221.2,479.8L225.1,471.4L229,479.8ZM231.5,484.3L235.4,475.9L239.3,484.3ZM240.4,488.6L244.3,480.2L248.2,488.6ZM248.3,492L252.2,483.6L256.1,492ZM255.4,495.6L259.3,487.2L263.2,495.6ZM261.8,500.2L265.7,491.8L269.6,500.2ZM267.7,504.3L271.6,495.9L275.5,504.3ZM273,507.7L276.9,499.3L280.8,507.7ZM278,510.7L281.9,502.3L285.8,510.7ZM282.6,513.4L286.5,505L290.4,513.4ZM287,516.1L290.9,507.7L294.8,516.1ZM291.1,518.6L295,510.2L298.9,518.6ZM294.9,520.8L298.8,512.4L302.7,520.8ZM298.5,522.9L302.4,514.5L306.3,522.9ZM302,525L305.9,516.6L309.8,525ZM305.3,526.6L309.2,518.2L313.1,526.6ZM308.4,527.6L312.3,519.2L316.2,527.6ZM311.4,528L315.3,519.6L319.2,528ZM314.2,528.4L318.1,520L322,528.4ZM317,528.5L320.9,520.1L324.8,528.5Z" fill="none" stroke="#00ff00" stroke-width="1.05"/>
<g fill="#00ff00">
<circle cx="225.4" cy="491.7" r="3.4"/>
<circle cx="244.6" cy="494.5" r="3.4"/>
<circle cx="259.5" cy="503.2" r="3.4"/>
<circle cx="271.7" cy="511.1" r="3.4"/>
<circle cx="282.1" cy="516.3" r="3.4"/>
<circle cx="291" cy="520.3" r="3.4"/>
<circle cx="298.9" cy="524.6" r="3.4"/>
<circle cx="306" cy="529.4" r="3.4"/>
<circle cx="312.4" cy="533.5" r="3.4"/>
<circle cx="318.2" cy="537.1" r="3.4"/>
<circle cx="323.6" cy="540.5" r="3.4"/>
<circle cx="328.6" cy="543.1" r="3.4"/>
<circle cx="333.2" cy="546.6" r="3.4"/>
<circle cx="337.6" cy="550.4" r="3.4"/>
<circle cx="341.6" cy="553.6" r="3.4"/>
<circle cx="345.5" cy="556.2" r="3.4"/>
<circle cx="349.1" cy="558.4" r="3.4"/>
<circle cx="352.6" cy="560.1" r="3.4"/>
<circle cx="355.9" cy="561.4" r="3.4"/>
<circle cx="359" cy="562.2" r="3.4"/>
<circle cx="362" cy="562.1" r="3.4"/>
<circle cx="364.8" cy="561.6" r="3.4"/>
<circle cx="367.6" cy="560.6" r="3.4"/>
</g>
<polyline points="88.5,450.2 93,450.7 97.5,451.3 102,451.9 106.5,452.6 111,453.3 115.5,454.1 120,454.9 124.5,455.8 129,456.7 133.5,457.6 138,458.6 142.5,459.6 147,460.6 151.5,461.7 156,462.9 160.5,464 165,465.2 169.4,466.4 173.9,467.7 178.4,469 182.9,470.3 187.4,471.6 191.9,473 196.4,474.4 200.9,475.8 205.4,477.3 209.9,478.7 214.4,480.2 218.9,481.7 223.4,483.3 227.9,484.8 232.4,486.4 236.9,488 241.4,489.6 245.9,491.3 250.4,492.9 254.9,494.6 259.4,496.2 263.9,497.9 268.4,499.6 272.9,501.3 277.4,503.1 281.9,504.8 286.4,506.6 290.9,508.3 295.4,510.1 299.9,511.9 304.4,513.7 308.9,515.6 313.4,517.4 317.9,519.3 322.3,521.1 326.8,523 331.3,524.9 335.8,526.8 340.3,528.7 344.8,530.7 349.3,532.6 353.8,534.6 358.3,536.5 362.8,538.5 367.3,540.5 371.8,542.5 376.3,544.5 380.8,546.5 385.3,548.5 389.8,550.6 394.3,552.6 398.8,554.7" fill="none" stroke="#0000ff" stroke-width="1.95"/>
<path d="M174.9,477L178.8,468.6L182.7,477ZM194.1,481.4L198,473L201.9,481.4ZM209,484.5L212.9,476.1L216.8,484.5ZM221.2,487.9L225.1,479.5L229,487.9ZM231.5,491.4L235.4,483L239.3,491.4ZM240.4,494.8L244.3,486.4L248.2,494.8ZM248.3,497.9L252.2,489.5L256.1,497.9ZM255.4,500.7L259.3,492.3L263.2,500.7ZM261.8,503.3L265.7,494.9L269.6,503.3ZM267.7,505.8L271.6,497.4L275.5,505.8ZM273,508L276.9,499.6L280.8,508ZM278,510.1L281.9,501.7L285.8,510.1ZM282.6,511.9L286.5,503.5L290.4,511.9ZM287,513.6L290.9,505.2L294.8,513.6ZM291.1,515.2L295,506.8L298.9,515.2ZM294.9,516.6L298.8,508.2L302.7,516.6ZM298.5,517.9L302.4,509.5L306.3,517.9ZM302,519L305.9,510.6L309.8,519ZM305.3,519.8L309.2,511.4L313.1,519.8ZM308.4,520.6L312.3,512.2L316.2,520.6ZM311.4,521L315.3,512.6L319.2,521ZM314.2,520.1L318.1,511.7L322,520.1ZM317,518L320.9,509.6L324.8,518Z" fill="none" stroke="#0000ff" stroke-width="1.05"/>
<g fill="#0000ff">
<circle cx="225.4" cy="495.1" r="3.4"/>
<circle cx="244.6" cy="496.8" r="3.4"/>
<circle cx="259.5" cy="501.2" r="3.4"/>
<circle cx="271.7" cy="504.9" r="3.4"/>
<circle cx="282.1" cy="509.2" r="3.4"/>
<circle cx="291" cy="512.7" r="3.4"/>
<circle cx="298.9" cy="516.2" r="3.4"/>
<circle cx="306" cy="519.6" r="3.4"/>
<circle cx="312.4" cy="522.1" r="3.4"/>
<circle cx="318.2" cy="524.9" r="3.4"/>
<circle cx="323.6" cy="527.4" r="3.4"/>
<circle cx="328.6" cy="529.7" r="3.4"/>
<circle cx="333.2" cy="532.1" r="3.4"/>
<circle cx="337.6" cy="534.2" r="3.4"/>
<circle cx="341.6" cy="536.1" r="3.4"/>
<circle cx="345.5" cy="537.8" r="3.4"/>
<circle cx="349.1" cy="539.2" r="3.4"/>
<circle cx="352.6" cy="540.2" r="3.4"/>
<circle cx="355.9" cy="540.8" r="3.4"/>
<circle cx="359" cy="541.1" r="3.4"/>
<circle cx="362" cy="540.7" r="3.4"/>
<circle cx="364.8" cy="539.6" r="3.4"/>
<circle cx="367.6" cy="538.1" r="3.4"/>
</g>
<line x1="275.7" x2="275.7" y1="433.2" y2="624.5" stroke="#6a6a6a" stroke-width="1.8" stroke-dasharray="6 2" stroke-dashoffset="3"/>
<line x1="322.4" x2="322.4" y1="433.2" y2="624.5" stroke="#6a6a6a" stroke-width="1.9" stroke-dasharray="2.2 2.24" stroke-dashoffset="1"/>
</g>
<rect x="88.5" y="433.2" width="310.3" height="191.3" fill="none" stroke="#383838" stroke-width="0.6"/>
<path d="M88.5,485.5h3.2M398.8,485.5h-3.2M88.5,456.6h1.8M398.8,456.6h-1.8M88.5,439.7h1.8M398.8,439.7h-1.8M88.5,581.4h3.2M398.8,581.4h-3.2M88.5,552.5h1.8M398.8,552.5h-1.8M88.5,535.6h1.8M398.8,535.6h-1.8M88.5,523.7h1.8M398.8,523.7h-1.8M88.5,514.4h1.8M398.8,514.4h-1.8M88.5,506.8h1.8M398.8,506.8h-1.8M88.5,500.4h1.8M398.8,500.4h-1.8M88.5,494.8h1.8M398.8,494.8h-1.8M88.5,489.9h1.8M398.8,489.9h-1.8M88.5,619.6h1.8M398.8,619.6h-1.8M88.5,610.3h1.8M398.8,610.3h-1.8M88.5,602.7h1.8M398.8,602.7h-1.8M88.5,596.3h1.8M398.8,596.3h-1.8M88.5,590.7h1.8M398.8,590.7h-1.8M88.5,585.8h1.8M398.8,585.8h-1.8M135.2,433.2v1.8M135.2,624.5v-1.8M162.5,433.2v1.8M162.5,624.5v-1.8M181.9,433.2v1.8M181.9,624.5v-1.8M196.9,433.2v1.8M196.9,624.5v-1.8M209.2,433.2v1.8M209.2,624.5v-1.8M219.6,433.2v1.8M219.6,624.5v-1.8M228.6,433.2v1.8M228.6,624.5v-1.8M236.6,433.2v1.8M236.6,624.5v-1.8M243.7,433.2v3.2M243.7,624.5v-3.2M290.4,433.2v1.8M290.4,624.5v-1.8M317.7,433.2v1.8M317.7,624.5v-1.8M337.1,433.2v1.8M337.1,624.5v-1.8M352.1,433.2v1.8M352.1,624.5v-1.8M364.4,433.2v1.8M364.4,624.5v-1.8M374.8,433.2v1.8M374.8,624.5v-1.8M383.8,433.2v1.8M383.8,624.5v-1.8M391.7,433.2v1.8M391.7,624.5v-1.8" stroke="#4a4a4a" stroke-width="0.6" fill="none"/>
<text x="84.3" y="491.2" font-size="15.1" text-anchor="end" stroke="#000" stroke-width="0.3">10<tspan dy="-6.6" font-size="10.9">2</tspan></text>
<text x="84.3" y="587.1" font-size="15.1" text-anchor="end" stroke="#000" stroke-width="0.3">10<tspan dy="-6.6" font-size="10.9">1</tspan></text>
<text transform="translate(49,579.9) rotate(-90)" font-size="16" stroke="#000" stroke-width="0.3"><tspan font-style="italic">k</tspan><tspan dy="-7.2" font-size="11.6">2</tspan><tspan dy="7.2">P(k) [Mpc/h]</tspan></text>
<text x="341.1" y="456.5" font-size="14" stroke="#000" stroke-width="0.3">L5</text>
<circle cx="369.5" cy="452.4" r="4.6" fill="#000"/>
<text x="341.1" y="475.4" font-size="14" stroke="#000" stroke-width="0.3">L10</text>
<path d="M372.9,475.4L376.4,468.3L379.9,475.4Z" fill="none" stroke="#000" stroke-width="0.8"/>
<text x="101" y="553.1" font-size="14" stroke="#000" stroke-width="0.3">z=1</text>
<text x="100.5" y="571.6" font-size="14" fill="#ff0000" stroke="#ff0000" stroke-width="0.3"><tspan font-style="italic">m</tspan><tspan dx="-1.5" dy="2.8" font-size="10.3">WDM</tspan><tspan dy="-2.8">=0.5 keV, </tspan><tspan dx="1" font-style="italic">r</tspan><tspan dx="-0.6" dy="2.8" font-size="10.3">warm</tspan><tspan dy="-2.8">=0.5</tspan></text>
<text x="100.5" y="590.7" font-size="14" fill="#00ff00" stroke="#00ff00" stroke-width="0.3"><tspan font-style="italic">m</tspan><tspan dx="-1.5" dy="2.8" font-size="10.3">WDM</tspan><tspan dy="-2.8">=1 keV, </tspan><tspan dx="1" font-style="italic">r</tspan><tspan dx="-0.6" dy="2.8" font-size="10.3">warm</tspan><tspan dy="-2.8">=0.8</tspan></text>
<text x="100.5" y="609.7" font-size="14" fill="#0000ff" stroke="#0000ff" stroke-width="0.3"><tspan font-style="italic">m</tspan><tspan dx="-1.5" dy="2.8" font-size="10.3">WDM</tspan><tspan dy="-2.8">=0.1 keV, </tspan><tspan dx="1" font-style="italic">r</tspan><tspan dx="-0.6" dy="2.8" font-size="10.3">warm</tspan><tspan dy="-2.8">=0.1</tspan></text>
<text x="261.6" y="580.3" font-size="13.7" fill="#808080" stroke="#808080" stroke-width="0.3"><tspan font-style="italic">k</tspan><tspan dy="2.8" font-size="10.3">Nyq</tspan><tspan dy="-2.8">(L10)</tspan></text>
<text x="296.5" y="600.4" font-size="13.7" fill="#808080" stroke="#808080" stroke-width="0.3"><tspan font-style="italic">k</tspan><tspan dy="2.8" font-size="10.3">Nyq</tspan><tspan dy="-2.8">(L5)</tspan></text>
<clipPath id="c3"><rect x="88.5" y="638.7" width="307.3" height="189.6"/></clipPath>
<g clip-path="url(#c3)">
<polyline points="88.5,673.3 93,672.9 97.4,672.7 101.9,672.7 106.3,672.9 110.8,673.2 115.2,673.7 119.7,674.3 124.1,675.1 128.6,676 133,677 137.5,678.1 141.9,679.3 146.4,680.5 150.9,681.8 155.3,683.2 159.8,684.6 164.2,686 168.7,687.5 173.1,689 177.6,690.4 182,691.9 186.5,693.4 190.9,694.9 195.4,696.4 199.8,698 204.3,699.5 208.7,701 213.2,702.6 217.7,704.2 222.1,705.8 226.6,707.6 231,709.4 235.5,711.3 239.9,713.4 244.4,715.6 248.8,718 253.3,720.5 257.7,723.2 262.2,726 266.6,728.9 271.1,731.9 275.6,734.9 280,737.9 284.5,741 288.9,744.1 293.4,747.2 297.8,750.3 302.3,753.4 306.7,756.5 311.2,759.6 315.6,762.6 320.1,765.7 324.5,768.7 329,771.7 333.4,774.7 337.9,777.7 342.4,780.6 346.8,783.6 351.3,786.5 355.7,789.3 360.2,792.2 364.6,795 369.1,797.8 373.5,800.5 378,803.2 382.4,805.9 386.9,808.5 391.3,811.1 395.8,813.6" fill="none" stroke="#ff0000" stroke-width="1.95"/>
<path d="M174.1,703.2L177.9,694.8L181.8,703.2ZM193,707L196.9,698.7L200.8,707ZM207.8,711.3L211.7,703L215.5,711.3ZM219.9,715.3L223.7,707L227.6,715.3ZM230.1,720.4L234,712.1L237.8,720.4ZM239,723.9L242.8,715.5L246.7,723.9ZM246.8,730.9L250.7,722.6L254.5,730.9ZM253.8,736.6L257.7,728.3L261.5,736.6ZM260.1,740.2L264,731.9L267.9,740.2ZM265.9,742.5L269.8,734.2L273.6,742.5ZM271.2,744.2L275.1,735.8L279,744.2ZM276.2,745.5L280,737.2L283.9,745.5ZM280.8,746.6L284.6,738.3L288.5,746.6ZM285.1,747.6L288.9,739.3L292.8,747.6ZM289.1,748.4L293,740.1L296.8,748.4ZM292.9,749L296.8,740.7L300.6,749ZM296.5,749.5L300.4,741.2L304.2,749.5ZM299.9,749.9L303.8,741.6L307.6,749.9ZM303.2,750.2L307,741.9L310.9,750.2ZM306.3,750.4L310.1,742.1L314,750.4ZM309.2,750.5L313.1,742.1L316.9,750.5ZM312.1,750.3L315.9,742L319.8,750.3ZM314.8,750.1L318.6,741.8L322.5,750.1Z" fill="none" stroke="#ff0000" stroke-width="1.05"/>
<g fill="#ff0000">
<circle cx="224.1" cy="728.2" r="3.4"/>
<circle cx="243.1" cy="733.5" r="3.4"/>
<circle cx="257.9" cy="740.4" r="3.4"/>
<circle cx="270" cy="746.8" r="3.4"/>
<circle cx="280.2" cy="750.8" r="3.4"/>
<circle cx="289.1" cy="756.2" r="3.4"/>
<circle cx="296.9" cy="759.7" r="3.4"/>
<circle cx="303.9" cy="763.5" r="3.4"/>
<circle cx="310.2" cy="766.2" r="3.4"/>
<circle cx="316" cy="769.2" r="3.4"/>
<circle cx="321.3" cy="771.3" r="3.4"/>
<circle cx="326.3" cy="773.8" r="3.4"/>
<circle cx="330.9" cy="776" r="3.4"/>
<circle cx="335.2" cy="777.9" r="3.4"/>
<circle cx="339.2" cy="779.4" r="3.4"/>
<circle cx="343" cy="780.2" r="3.4"/>
<circle cx="346.6" cy="780.8" r="3.4"/>
<circle cx="350" cy="781.2" r="3.4"/>
<circle cx="353.3" cy="781.3" r="3.4"/>
<circle cx="356.4" cy="780.7" r="3.4"/>
<circle cx="359.3" cy="779.7" r="3.4"/>
<circle cx="362.2" cy="778.4" r="3.4"/>
<circle cx="364.9" cy="776.4" r="3.4"/>
</g>
<polyline points="88.5,670.2 93,670 97.4,669.9 101.9,669.9 106.3,670.1 110.8,670.3 115.2,670.6 119.7,671.1 124.1,671.6 128.6,672.2 133,672.9 137.5,673.6 141.9,674.4 146.4,675.3 150.9,676.3 155.3,677.3 159.8,678.4 164.2,679.5 168.7,680.6 173.1,681.8 177.6,683.1 182,684.4 186.5,685.8 190.9,687.2 195.4,688.6 199.8,690.2 204.3,691.7 208.7,693.4 213.2,695.1 217.7,696.9 222.1,698.7 226.6,700.6 231,702.6 235.5,704.6 239.9,706.8 244.4,709 248.8,711.3 253.3,713.6 257.7,716.1 262.2,718.6 266.6,721.2 271.1,723.9 275.6,726.7 280,729.6 284.5,732.5 288.9,735.6 293.4,738.7 297.8,741.9 302.3,745.2 306.7,748.6 311.2,752 315.6,755.4 320.1,758.9 324.5,762.5 329,766.1 333.4,769.8 337.9,773.5 342.4,777.2 346.8,781 351.3,784.8 355.7,788.6 360.2,792.5 364.6,796.3 369.1,800.2 373.5,804.1 378,807.9 382.4,811.8 386.9,815.7 391.3,819.6 395.8,823.4" fill="none" stroke="#00ff00" stroke-width="1.95"/>
<path d="M174.1,698.4L177.9,690L181.8,698.4ZM193,701.6L196.9,693.3L200.8,701.6ZM207.8,705.3L211.7,697L215.5,705.3ZM219.9,709.1L223.7,700.8L227.6,709.1ZM230.1,712.6L234,704.3L237.8,712.6ZM239,718.4L242.8,710.1L246.7,718.4ZM246.8,723L250.7,714.7L254.5,723ZM253.8,726.5L257.7,718.2L261.5,726.5ZM260.1,729.7L264,721.4L267.9,729.7ZM265.9,732.4L269.8,724.1L273.6,732.4ZM271.2,734.4L275.1,726.1L279,734.4ZM276.2,736.1L280,727.7L283.9,736.1ZM280.8,737.4L284.6,729.1L288.5,737.4ZM285.1,738.5L288.9,730.2L292.8,738.5ZM289.1,739.5L293,731.2L296.8,739.5ZM292.9,740.2L296.8,731.9L300.6,740.2ZM296.5,740.5L300.4,732.1L304.2,740.5ZM299.9,740.5L303.8,732.1L307.6,740.5ZM303.2,740.5L307,732.1L310.9,740.5ZM306.3,740.5L310.1,732.1L314,740.5ZM309.2,740.4L313.1,732.1L316.9,740.4ZM312.1,739.6L315.9,731.3L319.8,739.6ZM314.8,738.4L318.6,730L322.5,738.4Z" fill="none" stroke="#00ff00" stroke-width="1.05"/>
<g fill="#00ff00">
<circle cx="224.1" cy="717.6" r="3.4"/>
<circle cx="243.1" cy="724" r="3.4"/>
<circle cx="257.9" cy="730.9" r="3.4"/>
<circle cx="270" cy="735.6" r="3.4"/>
<circle cx="280.2" cy="740.4" r="3.4"/>
<circle cx="289.1" cy="745.4" r="3.4"/>
<circle cx="296.9" cy="749.8" r="3.4"/>
<circle cx="303.9" cy="754.4" r="3.4"/>
<circle cx="310.2" cy="758.4" r="3.4"/>
<circle cx="316" cy="761.3" r="3.4"/>
<circle cx="321.3" cy="764.5" r="3.4"/>
<circle cx="326.3" cy="767.1" r="3.4"/>
<circle cx="330.9" cy="769.1" r="3.4"/>
<circle cx="335.2" cy="770.7" r="3.4"/>
<circle cx="339.2" cy="772" r="3.4"/>
<circle cx="343" cy="772.7" r="3.4"/>
<circle cx="346.6" cy="773.2" r="3.4"/>
<circle cx="350" cy="773.5" r="3.4"/>
<circle cx="353.3" cy="773.3" r="3.4"/>
<circle cx="356.4" cy="772.4" r="3.4"/>
<circle cx="359.3" cy="771.2" r="3.4"/>
<circle cx="362.2" cy="769.8" r="3.4"/>
<circle cx="364.9" cy="767.8" r="3.4"/>
</g>
<polyline points="88.5,676 93,676 97.4,676.1 101.9,676.2 106.3,676.4 110.8,676.7 115.2,677.1 119.7,677.5 124.1,678 128.6,678.6 133,679.2 137.5,679.9 141.9,680.7 146.4,681.5 150.9,682.3 155.3,683.2 159.8,684.1 164.2,685.1 168.7,686.1 173.1,687.2 177.6,688.3 182,689.4 186.5,690.6 190.9,691.8 195.4,693 199.8,694.3 204.3,695.6 208.7,696.9 213.2,698.3 217.7,699.7 222.1,701.1 226.6,702.5 231,704 235.5,705.5 239.9,707 244.4,708.5 248.8,710.1 253.3,711.7 257.7,713.3 262.2,714.9 266.6,716.6 271.1,718.2 275.6,719.9 280,721.6 284.5,723.4 288.9,725.1 293.4,726.9 297.8,728.7 302.3,730.5 306.7,732.3 311.2,734.1 315.6,736 320.1,737.9 324.5,739.8 329,741.7 333.4,743.6 337.9,745.6 342.4,747.5 346.8,749.5 351.3,751.5 355.7,753.5 360.2,755.6 364.6,757.6 369.1,759.7 373.5,761.7 378,763.8 382.4,765.9 386.9,768.1 391.3,770.2 395.8,772.4" fill="none" stroke="#0000ff" stroke-width="1.95"/>
<path d="M174.1,700.5L177.9,692.1L181.8,700.5ZM193,703.2L196.9,694.9L200.8,703.2ZM207.8,706.1L211.7,697.8L215.5,706.1ZM219.9,709.1L223.7,700.8L227.6,709.1ZM230.1,711.7L234,703.4L237.8,711.7ZM239,713.5L242.8,705.1L246.7,713.5ZM246.8,716.8L250.7,708.5L254.5,716.8ZM253.8,719.8L257.7,711.5L261.5,719.8ZM260.1,723.1L264,714.7L267.9,723.1ZM265.9,725.5L269.8,717.2L273.6,725.5ZM271.2,727L275.1,718.7L279,727ZM276.2,728.2L280,719.9L283.9,728.2ZM280.8,729.2L284.6,720.9L288.5,729.2ZM285.1,730.5L288.9,722.2L292.8,730.5ZM289.1,731.5L293,723.2L296.8,731.5ZM292.9,731.7L296.8,723.3L300.6,731.7ZM296.5,731.7L300.4,723.3L304.2,731.7ZM299.9,731.7L303.8,723.3L307.6,731.7ZM303.2,731.6L307,723.3L310.9,731.6ZM306.3,731.1L310.1,722.8L314,731.1ZM309.2,730.3L313.1,722L316.9,730.3ZM312.1,729L315.9,720.6L319.8,729ZM314.8,726.5L318.6,718.1L322.5,726.5Z" fill="none" stroke="#0000ff" stroke-width="1.05"/>
<g fill="#0000ff">
<circle cx="224.1" cy="714" r="3.4"/>
<circle cx="243.1" cy="716.9" r="3.4"/>
<circle cx="257.9" cy="721.3" r="3.4"/>
<circle cx="270" cy="723.9" r="3.4"/>
<circle cx="280.2" cy="727.3" r="3.4"/>
<circle cx="289.1" cy="730.4" r="3.4"/>
<circle cx="296.9" cy="733.3" r="3.4"/>
<circle cx="303.9" cy="735.9" r="3.4"/>
<circle cx="310.2" cy="738.2" r="3.4"/>
<circle cx="316" cy="740.2" r="3.4"/>
<circle cx="321.3" cy="741.6" r="3.4"/>
<circle cx="326.3" cy="744.1" r="3.4"/>
<circle cx="330.9" cy="746.6" r="3.4"/>
<circle cx="335.2" cy="748.7" r="3.4"/>
<circle cx="339.2" cy="750.3" r="3.4"/>
<circle cx="343" cy="751.2" r="3.4"/>
<circle cx="346.6" cy="751.8" r="3.4"/>
<circle cx="350" cy="752.1" r="3.4"/>
<circle cx="353.3" cy="751.8" r="3.4"/>
<circle cx="356.4" cy="751" r="3.4"/>
<circle cx="359.3" cy="750" r="3.4"/>
<circle cx="362.2" cy="748.6" r="3.4"/>
<circle cx="364.9" cy="746.5" r="3.4"/>
</g>
<line x1="273.9" x2="273.9" y1="638.7" y2="828.3" stroke="#6a6a6a" stroke-width="1.8" stroke-dasharray="6 2" stroke-dashoffset="3"/>
<line x1="320.1" x2="320.1" y1="638.7" y2="828.3" stroke="#6a6a6a" stroke-width="1.9" stroke-dasharray="2.2 2.24" stroke-dashoffset="1"/>
</g>
<rect x="88.5" y="638.7" width="307.3" height="189.6" fill="none" stroke="#383838" stroke-width="0.6"/>
<path d="M88.5,666.7h3.2M395.8,666.7h-3.2M88.5,761.5h3.2M395.8,761.5h-3.2M88.5,733h1.8M395.8,733h-1.8M88.5,716.3h1.8M395.8,716.3h-1.8M88.5,704.4h1.8M395.8,704.4h-1.8M88.5,695.2h1.8M395.8,695.2h-1.8M88.5,687.7h1.8M395.8,687.7h-1.8M88.5,681.4h1.8M395.8,681.4h-1.8M88.5,675.9h1.8M395.8,675.9h-1.8M88.5,671h1.8M395.8,671h-1.8M88.5,827.8h1.8M395.8,827.8h-1.8M88.5,811.1h1.8M395.8,811.1h-1.8M88.5,799.2h1.8M395.8,799.2h-1.8M88.5,790h1.8M395.8,790h-1.8M88.5,782.5h1.8M395.8,782.5h-1.8M88.5,776.2h1.8M395.8,776.2h-1.8M88.5,770.7h1.8M395.8,770.7h-1.8M88.5,765.8h1.8M395.8,765.8h-1.8M134.8,638.7v1.8M134.8,828.3v-1.8M161.8,638.7v1.8M161.8,828.3v-1.8M181,638.7v1.8M181,828.3v-1.8M195.9,638.7v1.8M195.9,828.3v-1.8M208.1,638.7v1.8M208.1,828.3v-1.8M218.3,638.7v1.8M218.3,828.3v-1.8M227.3,638.7v1.8M227.3,828.3v-1.8M235.1,638.7v1.8M235.1,828.3v-1.8M242.2,638.7v3.2M242.2,828.3v-3.2M288.4,638.7v1.8M288.4,828.3v-1.8M315.5,638.7v1.8M315.5,828.3v-1.8M334.7,638.7v1.8M334.7,828.3v-1.8M349.5,638.7v1.8M349.5,828.3v-1.8M361.7,638.7v1.8M361.7,828.3v-1.8M372,638.7v1.8M372,828.3v-1.8M380.9,638.7v1.8M380.9,828.3v-1.8M388.8,638.7v1.8M388.8,828.3v-1.8" stroke="#4a4a4a" stroke-width="0.6" fill="none"/>
<text x="84.3" y="672.3" font-size="14.9" text-anchor="end" stroke="#000" stroke-width="0.3">10<tspan dy="-6.5" font-size="10.8">2</tspan></text>
<text x="84.3" y="767.1" font-size="14.9" text-anchor="end" stroke="#000" stroke-width="0.3">10<tspan dy="-6.5" font-size="10.8">1</tspan></text>
<text transform="translate(49.4,783) rotate(-90)" font-size="15.8" stroke="#000" stroke-width="0.3"><tspan font-style="italic">k</tspan><tspan dy="-7.1" font-size="11.5">2</tspan><tspan dy="7.1">P(k) [Mpc/h]</tspan></text>
<text x="338.6" y="661.8" font-size="13.9" stroke="#000" stroke-width="0.3">L5</text>
<circle cx="366.7" cy="657.7" r="4.6" fill="#000"/>
<text x="338.6" y="680.5" font-size="13.9" stroke="#000" stroke-width="0.3">L10</text>
<path d="M370,680.5L373.5,673.4L377,680.5Z" fill="none" stroke="#000" stroke-width="0.8"/>
<text x="100.9" y="757.4" font-size="13.9" stroke="#000" stroke-width="0.3">z=2</text>
<text x="100.4" y="775.7" font-size="13.9" fill="#ff0000" stroke="#ff0000" stroke-width="0.3"><tspan font-style="italic">m</tspan><tspan dx="-1.5" dy="2.8" font-size="10.2">WDM</tspan><tspan dy="-2.8">=0.5 keV, </tspan><tspan dx="1" font-style="italic">r</tspan><tspan dx="-0.6" dy="2.8" font-size="10.2">warm</tspan><tspan dy="-2.8">=0.5</tspan></text>
<text x="100.4" y="794.6" font-size="13.9" fill="#00ff00" stroke="#00ff00" stroke-width="0.3"><tspan font-style="italic">m</tspan><tspan dx="-1.5" dy="2.8" font-size="10.2">WDM</tspan><tspan dy="-2.8">=1 keV, </tspan><tspan dx="1" font-style="italic">r</tspan><tspan dx="-0.6" dy="2.8" font-size="10.2">warm</tspan><tspan dy="-2.8">=0.8</tspan></text>
<text x="100.4" y="813.4" font-size="13.9" fill="#0000ff" stroke="#0000ff" stroke-width="0.3"><tspan font-style="italic">m</tspan><tspan dx="-1.5" dy="2.8" font-size="10.2">WDM</tspan><tspan dy="-2.8">=0.1 keV, </tspan><tspan dx="1" font-style="italic">r</tspan><tspan dx="-0.6" dy="2.8" font-size="10.2">warm</tspan><tspan dy="-2.8">=0.1</tspan></text>
<text x="259.9" y="784.3" font-size="13.5" fill="#808080" stroke="#808080" stroke-width="0.3"><tspan font-style="italic">k</tspan><tspan dy="2.8" font-size="10.2">Nyq</tspan><tspan dy="-2.8">(L10)</tspan></text>
<text x="294.4" y="804.2" font-size="13.5" fill="#808080" stroke="#808080" stroke-width="0.3"><tspan font-style="italic">k</tspan><tspan dy="2.8" font-size="10.2">Nyq</tspan><tspan dy="-2.8">(L5)</tspan></text>
<text x="88.5" y="846.2" font-size="14.9" text-anchor="middle" stroke="#000" stroke-width="0.3">10<tspan dy="-6.5" font-size="10.8">1</tspan></text>
<text x="242.2" y="846.2" font-size="14.9" text-anchor="middle" stroke="#000" stroke-width="0.3">10<tspan dy="-6.5" font-size="10.8">2</tspan></text>
<text x="395.8" y="846.2" font-size="14.9" text-anchor="middle" stroke="#000" stroke-width="0.3">10<tspan dy="-6.5" font-size="10.8">3</tspan></text>
<text x="241.5" y="867.8" font-size="15.8" text-anchor="middle" stroke="#000" stroke-width="0.3">k [h/Mpc]</text>
</svg>
</body></html>
